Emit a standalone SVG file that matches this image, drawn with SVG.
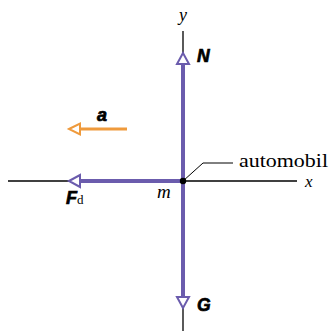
<svg xmlns="http://www.w3.org/2000/svg" width="331" height="334" viewBox="0 0 331 334">
<style>
.axis{stroke:#000;stroke-width:1.3;fill:none}
.force{stroke:#6b5cad;stroke-width:4;fill:none}
.head{stroke:#6b5cad;stroke-width:2;fill:#fff;stroke-linejoin:miter}
.ohead{stroke:#ef9a3c;stroke-width:2;fill:#fff}
.vec{font-family:"Liberation Sans",Arial,sans-serif;font-weight:bold;font-style:italic;fill:#000;stroke:#000;stroke-width:0.7}
.ser{font-family:"Liberation Serif","Times New Roman",serif;fill:#000}
</style>
<g id="axes">
<line class="axis" x1="183" y1="31" x2="183" y2="331"/>
<line class="axis" x1="8" y1="181" x2="297" y2="181"/>
<text class="ser" x="179" y="21" font-size="18" font-style="italic">y</text>
<text class="ser" x="305" y="187" font-size="17" font-style="italic">x</text>
</g>
<g id="connectors">
<line class="force" x1="183" y1="64" x2="183" y2="298"/>
<line class="force" x1="80" y1="181" x2="183" y2="181"/>
<line x1="80" y1="129" x2="127" y2="129" stroke="#ef9a3c" stroke-width="3"/>
<polyline points="183,181 203,163 233,163" stroke="#000" stroke-width="1" fill="none"/>
</g>
<g id="N">
<polygon class="head" points="183,53 177,64 189,64"/>
<text class="vec" x="197" y="62" font-size="17.5">N</text>
</g>
<g id="G">
<polygon class="head" points="183,308 177,297 189,297"/>
<text class="vec" x="197" y="310.5" font-size="17.5">G</text>
</g>
<g id="Fd">
<polygon class="head" points="69,181 80,175 80,187"/>
<text x="66" y="204"><tspan class="vec" font-size="18">F</tspan><tspan class="ser" font-size="13">d</tspan></text>
</g>
<g id="a">
<polygon class="ohead" points="69,129 80,123.5 80,134.5"/>
<text class="vec" x="97" y="121" font-size="18">a</text>
</g>
<g id="m">
<circle cx="183" cy="181" r="3.2" fill="#000"/>
<text class="ser" x="157" y="198" font-size="19" font-style="italic">m</text>
</g>
<g id="automobil">
<text class="ser" x="239" y="167" font-size="18" textLength="89" lengthAdjust="spacingAndGlyphs">automobil</text>
</g>
</svg>
